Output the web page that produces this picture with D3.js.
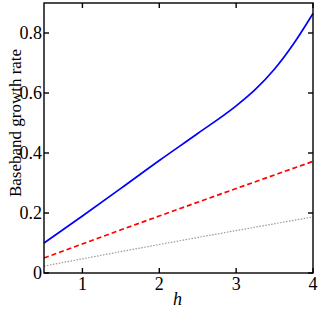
<!doctype html>
<html>
<head>
  <meta charset="utf-8">
  <title>Baseband growth rate</title>
  <style>
  body{ margin:0; background:#fff; }
  svg{ display:block; font-family:"Liberation Serif", "Times New Roman", serif; }
  </style>
</head>
<body>
  <svg></svg>
  <script src="https://cdn.jsdelivr.net/npm/d3@7"></script>
  <script>
  var width = 320;
  var height = 310;
  var margin = { left: 44, right: 7, top: 3, bottom: 37 };

  // values
  var hBlue = [0.5, 1, 1.5, 2, 2.5, 3, 3.25, 3.5, 3.75, 4];
  var blueRate = [0.1, 0.19, 0.282, 0.375, 0.465, 0.557, 0.612, 0.68, 0.765, 0.865];
  var hLin = [0.5, 2, 4];
  var redRate = [0.05, 0.19, 0.372];
  var grayRate = [0.023, 0.095, 0.187];
  var xTicks = [1, 2, 3, 4];
  var yTicks = [0, 0.2, 0.4, 0.6, 0.8];

  var svg = d3.select('svg')
    .attr('width', width)
    .attr('height', height);

  var x = d3.scaleLinear().domain([0.5, 4]).range([margin.left, width - margin.right]);
  var y = d3.scaleLinear().domain([0, 0.9]).range([height - margin.bottom, margin.top]);

  var line = d3.line()
    .x(function(d){ return x(d[0]); })
    .y(function(d){ return y(d[1]); })
    .curve(d3.curveMonotoneX);

  function pairs(xs, ys){
    return xs.map(function(v, i){ return [v, ys[i]]; });
  }

  svg.append('path').datum(pairs(hLin, grayRate))
    .attr('d', line).attr('fill', 'none')
    .attr('stroke', '#999').attr('stroke-width', 1.2)
    .attr('stroke-dasharray', '1.5,1.5');

  svg.append('path').datum(pairs(hLin, redRate))
    .attr('d', line).attr('fill', 'none')
    .attr('stroke', '#f00').attr('stroke-width', 1.7)
    .attr('stroke-dasharray', '5,3');

  svg.append('path').datum(pairs(hBlue, blueRate))
    .attr('d', line).attr('fill', 'none')
    .attr('stroke', '#00f').attr('stroke-width', 1.7);

  // box with inward ticks on all sides
  var tl = 5;
  var g = svg.append('g').attr('stroke', '#000').attr('stroke-width', 1.4);
  g.append('rect')
    .attr('x', x(0.5)).attr('y', y(0.9))
    .attr('width', x(4) - x(0.5)).attr('height', y(0) - y(0.9))
    .attr('fill', 'none');
  xTicks.forEach(function(t){
    g.append('line').attr('x1', x(t)).attr('x2', x(t)).attr('y1', y(0)).attr('y2', y(0) - tl);
    g.append('line').attr('x1', x(t)).attr('x2', x(t)).attr('y1', y(0.9)).attr('y2', y(0.9) + tl);
  });
  yTicks.forEach(function(t){
    g.append('line').attr('y1', y(t)).attr('y2', y(t)).attr('x1', x(0.5)).attr('x2', x(0.5) + tl);
    g.append('line').attr('y1', y(t)).attr('y2', y(t)).attr('x1', x(4)).attr('x2', x(4) - tl);
  });

  svg.selectAll('.xlab').data(xTicks).enter().append('text')
    .attr('x', function(d){ return x(d); })
    .attr('y', y(0) + 17)
    .attr('text-anchor', 'middle')
    .attr('font-size', 18)
    .text(function(d){ return d; });

  svg.selectAll('.ylab').data(yTicks).enter().append('text')
    .attr('x', x(0.5) - 2)
    .attr('y', function(d){ return y(d) + 6; })
    .attr('text-anchor', 'end')
    .attr('font-size', 18)
    .text(function(d){ return d === 0 ? '0' : d.toFixed(1); });

  svg.append('text')
    .attr('x', (x(0.5) + x(4)) / 2 - 1)
    .attr('y', 305)
    .attr('text-anchor', 'middle')
    .attr('font-size', 18)
    .attr('font-style', 'italic')
    .text('h');

  svg.append('text')
    .attr('transform', 'translate(21,123) rotate(-90)')
    .attr('text-anchor', 'middle')
    .attr('font-size', 17)
    .text('Baseband growth rate');
  </script>
</body>
</html>
